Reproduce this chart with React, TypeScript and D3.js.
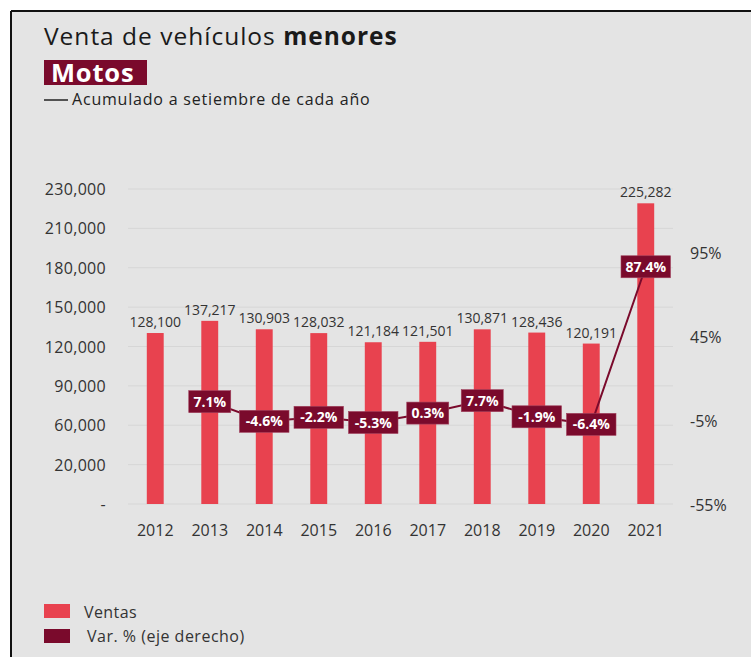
import React from 'react';
import * as d3 from 'd3';

const years = ['2012', '2013', '2014', '2015', '2016', '2017', '2018', '2019', '2020', '2021'];
const ventas = [128100, 137217, 130903, 128032, 121184, 121501, 130871, 128436, 120191, 225282];
const varPct: (number | null)[] = [null, 7.1, -4.6, -2.2, -5.3, 0.3, 7.7, -1.9, -6.4, 87.4];
const leftTickLabels = ['-', '20,000', '60,000', '90,000', '120,000', '150,000', '180,000', '210,000', '230,000'];
const rightTicks = [-55, -5, 45, 95];

const W = 751;
const H = 657;
const BAR = '#e8424f';
const MAROON = '#7a0a2c';
const BG = '#e4e4e4';
const FONT = '"Open Sans", "Noto Sans", sans-serif';

export default function App() {
  const x = d3.scaleBand<string>().domain(years).range([128, 673]).paddingInner(0.69).paddingOuter(0.345);
  const y = d3.scaleLinear().domain([0, 236000]).range([504, 189]);
  const yR = d3.scaleLinear().domain([-55, 95]).range([506, 254]);
  const yTick = d3.scalePoint<string>().domain(leftTickLabels).range([504, 189]);
  const cx = (i: number) => (x(years[i]) as number) + x.bandwidth() / 2;

  const pts = varPct
    .map((v, i) => (v == null ? null : ([cx(i), yR(v)] as [number, number])))
    .filter((p): p is [number, number] => p != null);
  const linePath = d3.line()(pts) || '';
  const fmt = d3.format(',');

  return (
    <svg width={W} height={H} style={{ position: 'absolute', left: 0, top: 0 }} fontFamily={FONT}>
      <rect x={0} y={0} width={W} height={H} fill="#ffffff" />
      <rect x={12} y={12} width={W - 12} height={H - 12} fill={BG} />
      <line x1={11} y1={11} x2={W} y2={11} stroke="#111" strokeWidth={2} />
      <line x1={11} y1={11} x2={11} y2={H} stroke="#111" strokeWidth={2} />

      {/* Title */}
      <text x={44} y={45} fontSize={24.5} letterSpacing={1} fill="#1a1a1a">
        <tspan>Venta de vehículos </tspan>
        <tspan fontWeight="bold">menores</tspan>
      </text>
      <rect x={44} y={60} width={103} height={25} fill={MAROON} />
      <text x={51} y={82} fontSize={25.5} letterSpacing={0.8} fontWeight="bold" fill="#ffffff">Motos</text>
      <line x1={44} y1={100} x2={68} y2={100} stroke="#222" strokeWidth={1.5} />
      <text x={72} y={105} fontSize={16} letterSpacing={0.8} fill="#222">Acumulado a setiembre de cada año</text>

      {/* gridlines */}
      {leftTickLabels.map((t) => (
        <line key={'g' + t} x1={128} x2={673} y1={yTick(t)} y2={yTick(t)} stroke="#d6d6d6" strokeWidth={1} />
      ))}
      {/* left axis labels */}
      {leftTickLabels.map((t) => (
        <text key={'l' + t} x={106} y={(yTick(t) as number) + 6} fontSize={16} letterSpacing={0.3} textAnchor="end" fill="#333">{t}</text>
      ))}
      {/* right axis labels */}
      {rightTicks.map((t) => (
        <text key={'r' + t} x={690} y={yR(t) + 5} fontSize={16} fill="#333">{t}%</text>
      ))}

      {/* bars */}
      {ventas.map((v, i) => (
        <rect key={'b' + i} x={x(years[i])} y={y(v)} width={x.bandwidth()} height={504 - y(v)} fill={BAR} />
      ))}
      {/* bar labels */}
      {ventas.map((v, i) => (
        <text key={'bl' + i} x={cx(i)} y={y(v) - 6} fontSize={14} textAnchor="middle" fill="#333">{fmt(v)}</text>
      ))}
      {/* x labels */}
      {years.map((yr, i) => (
        <text key={'x' + yr} x={cx(i)} y={536} fontSize={16} textAnchor="middle" fill="#333">{yr}</text>
      ))}

      {/* line */}
      <path d={linePath} fill="none" stroke={MAROON} strokeWidth={2} />
      {varPct.map((v, i) => {
        if (v == null) return null;
        const label = v.toFixed(1) + '%';
        const w = label.length * 7.5 + 12;
        const h = 22;
        return (
          <g key={'p' + i}>
            <rect x={cx(i) - w / 2} y={yR(v) - h / 2} width={w} height={h} fill={MAROON} stroke="#a0405c" strokeWidth={0.6} />
            <text x={cx(i)} y={yR(v) + 5} fontSize={14} fontWeight="bold" textAnchor="middle" fill="#ffffff">{label}</text>
          </g>
        );
      })}

      {/* legend */}
      <rect x={44} y={604} width={26} height={14} fill={BAR} />
      <text x={84} y={618} fontSize={16} letterSpacing={0.4} fill="#333">Ventas</text>
      <rect x={44} y={629} width={26} height={14} fill={MAROON} />
      <text x={87} y={642} fontSize={16} letterSpacing={0.5} fill="#333">Var. % (eje derecho)</text>
    </svg>
  );
}
